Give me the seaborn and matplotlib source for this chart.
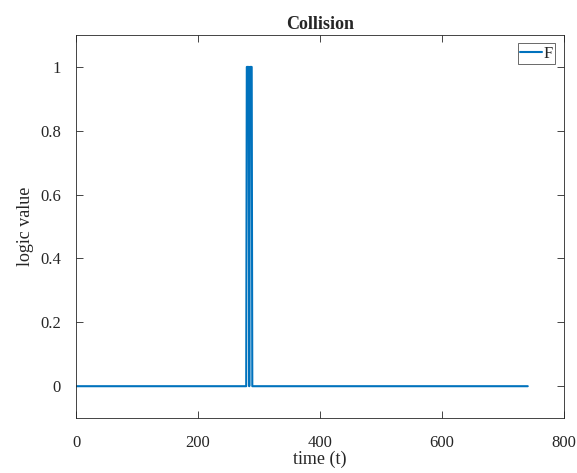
import numpy as np
import pandas as pd
import matplotlib
matplotlib.use("Agg")
import matplotlib.pyplot as plt
import seaborn as sns

# collision flag F over time: zero everywhere except a short burst
t_end = 741
on_times = [280, 281, 282, 283, 285, 286, 287, 288]

t = np.arange(0, t_end + 1)
flag = np.zeros(len(t))
flag[on_times] = 1
df = pd.DataFrame({"time": t, "F": flag})

sns.set_style("ticks")
plt.rcParams["font.family"] = ["Liberation Serif", "DejaVu Serif"]

fig = plt.figure(figsize=(5.77, 4.73), dpi=100)
ax = fig.add_axes([0.132, 0.116, 0.845, 0.810])
sns.lineplot(data=df, x="time", y="F", ax=ax, color="#0072BD", linewidth=1.5, label="F")

ax.set_xlim(0, 800)
ax.set_ylim(-0.1, 1.1)
ax.set_xticks([0, 200, 400, 600, 800])
ax.set_yticks([0, 0.2, 0.4, 0.6, 0.8, 1])
ax.set_yticklabels(["0", "0.2", "0.4", "0.6", "0.8", "1"])
ax.tick_params(direction="in", top=True, right=True, labelsize=12, length=5, width=0.6)
ax.tick_params(axis="x", pad=12)
ax.tick_params(axis="y", pad=11)
for s in ax.spines.values():
    s.set_linewidth(0.6)
    s.set_color("#262626")
ax.set_xlabel("time (t)", fontsize=13, labelpad=0)
ax.set_ylabel("logic value", fontsize=13, labelpad=4)
ax.set_title("Collision", fontsize=13, fontweight="bold", pad=4)

leg = ax.legend(loc="upper right", fontsize=12, frameon=True, fancybox=False,
                handlelength=1.3, handletextpad=0.1, borderpad=0.15,
                borderaxespad=0.5)
leg.get_frame().set_edgecolor("#262626")
leg.get_frame().set_linewidth(0.6)

fig.savefig("out.png", dpi=100)
